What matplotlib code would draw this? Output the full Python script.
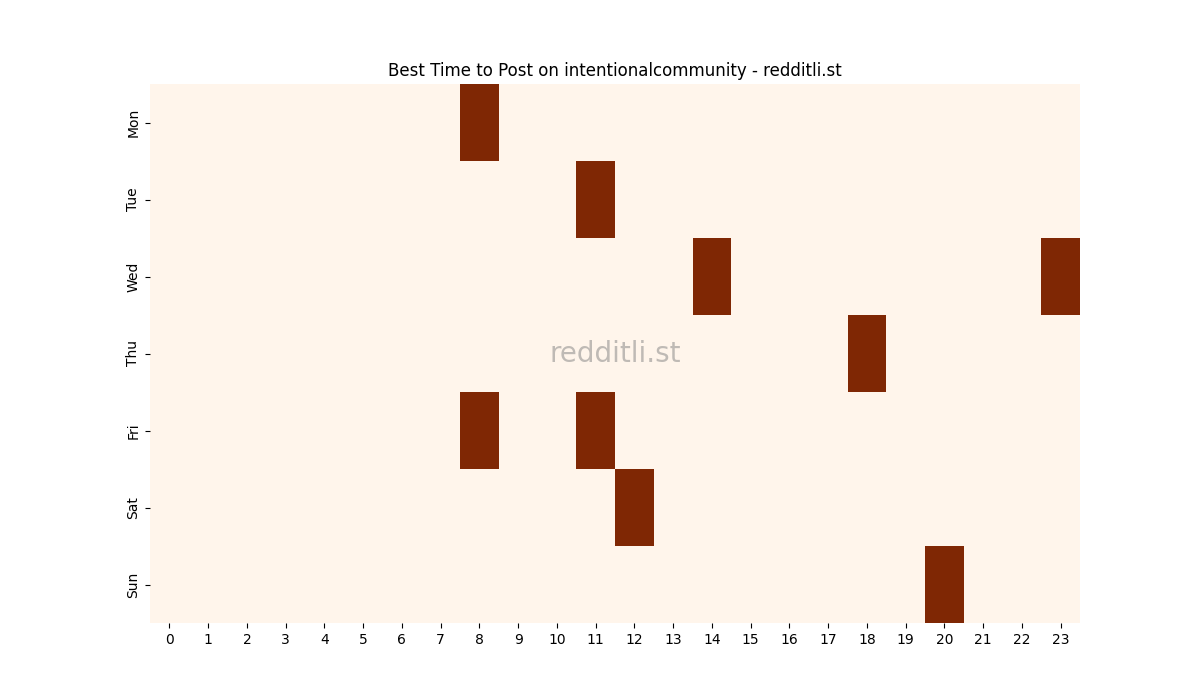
import matplotlib
matplotlib.use("Agg")
import matplotlib.pyplot as plt
import numpy as np
import seaborn as sns

days = ["Mon", "Tue", "Wed", "Thu", "Fri", "Sat", "Sun"]
hours = list(range(24))
best_hours = {
    "Mon": [8],
    "Tue": [11],
    "Wed": [14, 23],
    "Thu": [18],
    "Fri": [8, 11],
    "Sat": [12],
    "Sun": [20],
}

grid = np.zeros((len(days), len(hours)))
for i, d in enumerate(days):
    for h in best_hours[d]:
        grid[i, h] = 1

fig, ax = plt.subplots(figsize=(12, 7), dpi=100)
sns.heatmap(grid, cmap="Oranges", cbar=False, ax=ax,
            xticklabels=hours, yticklabels=days)
ax.set_yticklabels(days, rotation=90, va="center")
ax.set_xticklabels(hours, rotation=0)
ax.set_title("Best Time to Post on intentionalcommunity - redditli.st")
ax.text(0.5, 0.5, "redditli.st", transform=ax.transAxes, ha="center", va="center",
        fontsize=20, color="gray", alpha=0.5)
fig.savefig("out.png", dpi=100)
